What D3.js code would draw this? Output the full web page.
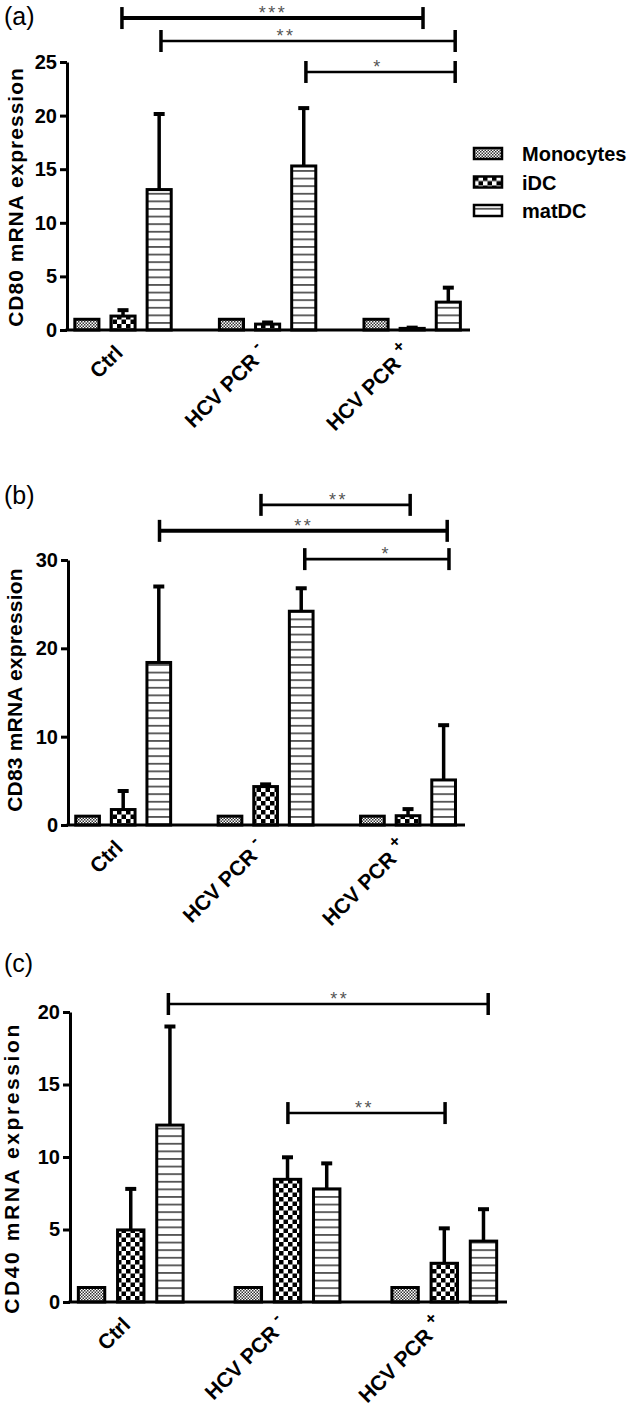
<!DOCTYPE html>
<html><head><meta charset="utf-8">
<script src="https://cdn.jsdelivr.net/npm/d3@7"></script>
<style>
body{margin:0;background:#fff}
svg{display:block}
text{font-family:"Liberation Sans",Arial,sans-serif}
</style>
</head><body>
<svg id="chart" width="633" height="1420"></svg>
<script>
// ---------- data ----------
const categories = ["Ctrl", "HCV PCR", "HCV PCR"];
const categorySup = ["", "-", "+"];
const seriesNames = ["Monocytes", "iDC", "matDC"];

// (a) CD80
const cd80Monocytes = [1, 1, 1];
const cd80IDC = [1.3, 0.55, 0.15];
const cd80MatDC = [13.1, 15.3, 2.6];
const cd80IDCErr = [0.55, 0.15, 0.07];
const cd80MatDCErr = [7.05, 5.4, 1.35];
const cd80Ticks = [0, 5, 10, 15, 20, 25];
// brackets: from/to/label position in bar-slot units, level in data units
const cd80Brackets = [
  {from: 0.97, to: 9.30, level: 29.1, label: "***", at: 5.12, w: 4},
  {from: 2.05, to: 10.19, level: 26.96, label: "**", at: 5.48, w: 2.6},
  {from: 6.06, to: 10.19, level: 24.07, label: "*", at: 8.03, w: 2.6}
];

// (b) CD83
const cd83Monocytes = [1, 1, 1];
const cd83IDC = [1.75, 4.35, 1.05];
const cd83MatDC = [18.4, 24.2, 5.1];
const cd83IDCErr = [2.1, 0.25, 0.75];
const cd83MatDCErr = [8.6, 2.6, 6.2];
const cd83Ticks = [0, 10, 20, 30];
const cd83Brackets = [
  {from: 4.87, to: 9.06, level: 36.24, label: "**", at: 7.02, w: 2.7},
  {from: 2.02, to: 10.10, level: 33.3, label: "**", at: 6.04, w: 4},
  {from: 6.10, to: 10.15, level: 30.1, label: "*", at: 8.36, w: 2.6}
];

// (c) CD40
const cd40Monocytes = [1, 1, 1];
const cd40IDC = [4.97, 8.46, 2.67];
const cd40MatDC = [12.2, 7.8, 4.2];
const cd40IDCErr = [2.83, 1.52, 2.41];
const cd40MatDCErr = [6.8, 1.76, 2.2];
const cd40Ticks = [0, 5, 10, 15, 20];
const cd40Brackets = [
  {from: 1.96, to: 10.12, level: 20.55, label: "**", at: 6.31, w: 2.6},
  {from: 5.01, to: 9.02, level: 13.03, label: "**", at: 6.94, w: 2.6}
];

// ---------- drawing ----------
const svg = d3.select("#chart");
const defs = svg.append("defs");

// Monocytes: fine checker
const pM = defs.append("pattern").attr("id", "pMono").attr("patternUnits", "userSpaceOnUse")
  .attr("width", 3).attr("height", 3);
pM.append("rect").attr("width", 3).attr("height", 3).attr("fill", "#fff");
pM.append("rect").attr("width", 1.5).attr("height", 1.5).attr("fill", "#333");
pM.append("rect").attr("x", 1.5).attr("y", 1.5).attr("width", 1.5).attr("height", 1.5).attr("fill", "#333");
// iDC: coarse checker
const pI = defs.append("pattern").attr("id", "pIDC").attr("patternUnits", "userSpaceOnUse")
  .attr("width", 9).attr("height", 9);
pI.append("rect").attr("width", 9).attr("height", 9).attr("fill", "#fff");
pI.append("rect").attr("width", 4.5).attr("height", 4.5).attr("fill", "#000");
pI.append("rect").attr("x", 4.5).attr("y", 4.5).attr("width", 4.5).attr("height", 4.5).attr("fill", "#000");
// matDC: horizontal lines
const pH = defs.append("pattern").attr("id", "pMat").attr("patternUnits", "userSpaceOnUse")
  .attr("width", 8).attr("height", 7.6);
pH.append("rect").attr("width", 8).attr("height", 7.6).attr("fill", "#fff");
pH.append("rect").attr("y", 3).attr("width", 8).attr("height", 1.5).attr("fill", "#333");

const fills = ["url(#pMono)", "url(#pIDC)", "url(#pMat)"];

function drawPanel(cfg) {
  const g = svg.append("g");
  const x = d3.scaleLinear().domain([-0.55, 10.6]).range([cfg.axisX, cfg.xEnd]);
  const y = d3.scaleLinear().domain([0, cfg.yMax]).range([cfg.zeroY, cfg.topY]);
  const slotW = x(1) - x(0);
  const bw = slotW * 0.75 - 3;

  const rows = [];
  cfg.values.forEach((vals, s) => {
    vals.forEach((v, gi) => {
      rows.push({s, gi, v, e: cfg.errors[s] ? cfg.errors[s][gi] : 0, slot: gi * 4 + s});
    });
  });

  // error bars
  const eb = g.append("g").selectAll("g").data(rows.filter(d => d.e > 0)).join("g");
  eb.append("line")
    .attr("x1", d => x(d.slot)).attr("x2", d => x(d.slot))
    .attr("y1", d => y(d.v)).attr("y2", d => y(d.v + d.e))
    .attr("stroke", "#000").attr("stroke-width", 3.5);
  eb.append("line")
    .attr("x1", d => x(d.slot) - 5.5).attr("x2", d => x(d.slot) + 5.5)
    .attr("y1", d => y(d.v + d.e)).attr("y2", d => y(d.v + d.e))
    .attr("stroke", "#000").attr("stroke-width", 4);

  // bars
  g.append("g").selectAll("rect").data(rows).join("rect")
    .attr("x", d => x(d.slot) - bw / 2)
    .attr("width", bw)
    .attr("y", d => y(d.v))
    .attr("height", d => y(0) - y(d.v))
    .attr("fill", d => fills[d.s])
    .attr("stroke", "#000").attr("stroke-width", 3);

  // y axis
  const ya = g.append("g").attr("transform", `translate(${cfg.axisX},0)`)
    .call(d3.axisLeft(y).tickValues(cfg.ticks).tickSize(7).tickSizeOuter(0).tickPadding(3).tickFormat(d3.format("d")));
  ya.select(".domain").attr("stroke", "#000").attr("stroke-width", 3);
  ya.selectAll(".tick line").attr("stroke", "#000").attr("stroke-width", 3);
  ya.selectAll(".tick text").attr("font-size", 20).attr("font-weight", "bold").attr("fill", "#000")
    .attr("font-family", "Liberation Sans, Arial, sans-serif");

  // x axis line
  g.append("line").attr("x1", x.range()[0] - 1.5).attr("x2", x.range()[1])
    .attr("y1", y(0)).attr("y2", y(0)).attr("stroke", "#000").attr("stroke-width", 3);

  // x labels
  categories.forEach((c, gi) => {
    const t = g.append("text")
      .attr("transform", `translate(${x(gi * 4 + 1) + 1},${y(0) + 24}) rotate(-45)`)
      .attr("text-anchor", "end").attr("font-size", 21).attr("font-weight", "bold");
    t.append("tspan").text(c);
    if (categorySup[gi]) {
      t.append("tspan").attr("font-size", 17).attr("dx", 6).attr("dy", -10).text(categorySup[gi]);
    }
  });

  // y title
  g.append("text")
    .attr("transform", `translate(${cfg.titleX},${cfg.titleY}) rotate(-90)`)
    .attr("text-anchor", "middle").attr("font-size", 21).attr("font-weight", "bold")
    .attr("letter-spacing", cfg.titleSpacing)
    .text(cfg.title);

  // panel tag
  g.append("text").attr("x", 4).attr("y", cfg.tagY).attr("font-size", 25).text(cfg.tag);

  // significance brackets
  cfg.brackets.forEach(b => {
    const yy = y(b.level);
    g.append("line").attr("x1", x(b.from)).attr("x2", x(b.to)).attr("y1", yy).attr("y2", yy)
      .attr("stroke", "#000").attr("stroke-width", b.w);
    [b.from, b.to].forEach(p => {
      g.append("line").attr("x1", x(p)).attr("x2", x(p)).attr("y1", yy - 11).attr("y2", yy + 11)
        .attr("stroke", "#000").attr("stroke-width", 3.5);
    });
    g.append("text").attr("x", x(b.at) + 1).attr("y", yy + 1).attr("text-anchor", "middle")
      .attr("font-size", 18).attr("letter-spacing", 2.5).attr("fill", "#555").text(b.label);
  });

  // legend
  if (cfg.legend) {
    const lg = g.append("g").attr("transform", "translate(474,148)");
    seriesNames.forEach((n, i) => {
      const row = lg.append("g").attr("transform", `translate(0,${i * 28.5})`);
      row.append("rect").attr("width", 28).attr("height", 11).attr("fill", fills[i])
        .attr("stroke", "#000").attr("stroke-width", 2.5);
      row.append("text").attr("x", 48).attr("y", 13).attr("font-size", 20).attr("font-weight", "bold").text(n);
    });
  }
}

drawPanel({
  axisX: 67, xEnd: 470, zeroY: 330, topY: 62, yMax: 25,
  values: [cd80Monocytes, cd80IDC, cd80MatDC], errors: [null, cd80IDCErr, cd80MatDCErr],
  ticks: cd80Ticks, brackets: cd80Brackets, title: "CD80 mRNA expression", titleSpacing: 1,
  titleX: 23, titleY: 197, tag: "(a)", tagY: 25, legend: true
});
drawPanel({
  axisX: 68, xEnd: 465, zeroY: 825, topY: 560, yMax: 30,
  values: [cd83Monocytes, cd83IDC, cd83MatDC], errors: [null, cd83IDCErr, cd83MatDCErr],
  ticks: cd83Ticks, brackets: cd83Brackets, title: "CD83 mRNA expression", titleSpacing: 0.2,
  titleX: 22, titleY: 690, tag: "(b)", tagY: 504, legend: false
});
drawPanel({
  axisX: 70, xEnd: 507, zeroY: 1302, topY: 1012, yMax: 20,
  values: [cd40Monocytes, cd40IDC, cd40MatDC], errors: [null, cd40IDCErr, cd40MatDCErr],
  ticks: cd40Ticks, brackets: cd40Brackets, title: "CD40 mRNA expression", titleSpacing: 2.6,
  titleX: 19, titleY: 1168, tag: "(c)", tagY: 972, legend: false
});
</script>
</body></html>
